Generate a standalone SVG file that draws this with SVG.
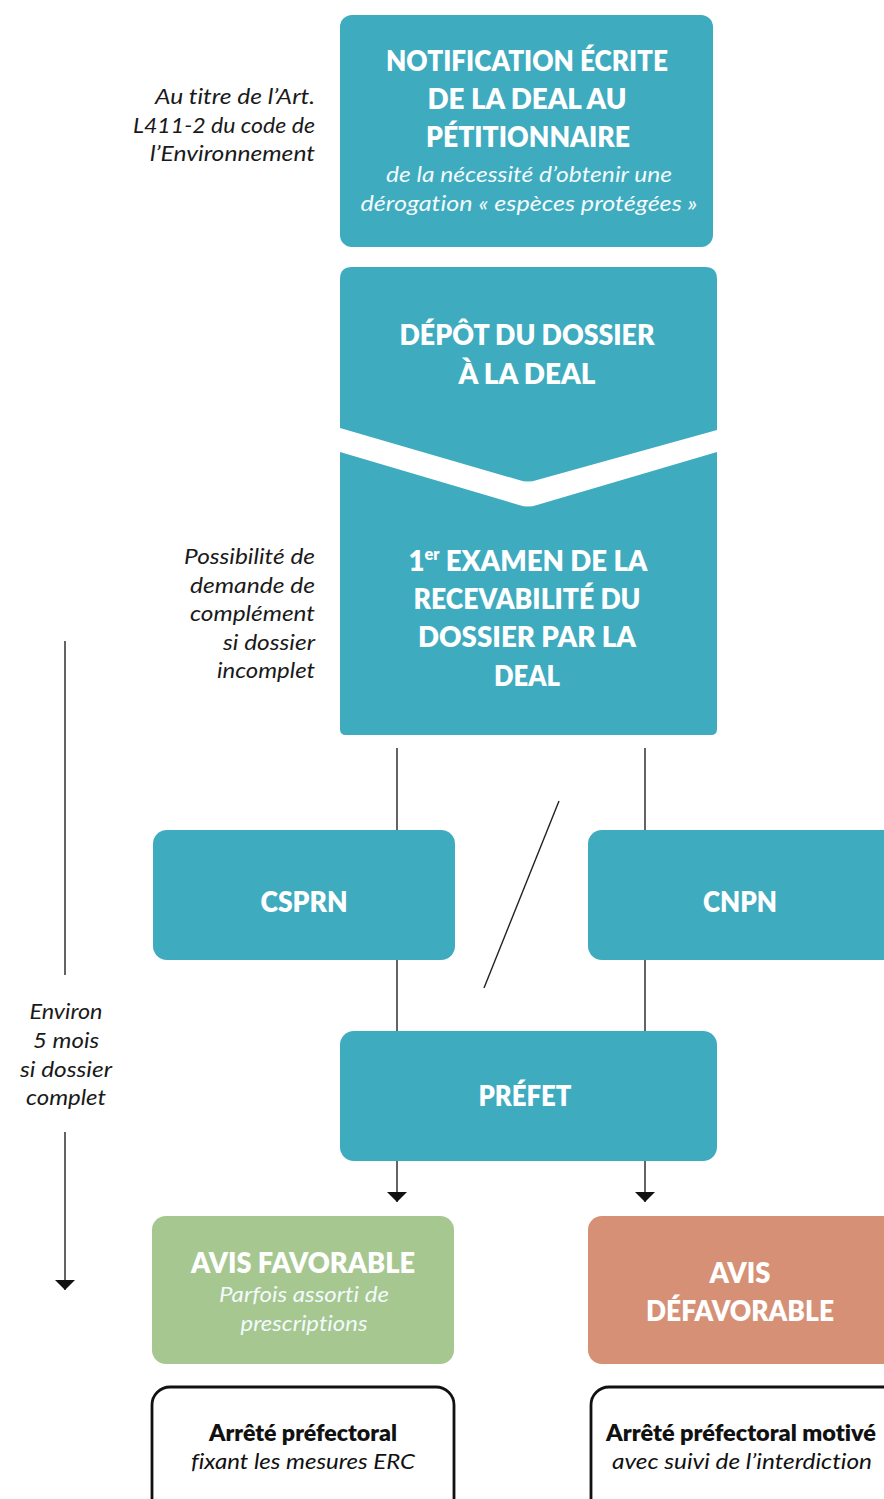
<svg xmlns="http://www.w3.org/2000/svg" width="884" height="1499" viewBox="0 0 884 1499">
  <style>
    text { font-variant-ligatures: none; }
    .teal { fill: #3eabbf; }
    .green { fill: #a6c790; }
    .salmon { fill: #d59076; }
    .card { fill: #ffffff; stroke: #111111; stroke-width: 2.8; }
    .head { font-family: Lato, "Liberation Sans", sans-serif; font-weight: 800; font-size: 29px; fill: #ffffff; text-anchor: middle; }
    .sub { font-family: Lato, "Liberation Sans", sans-serif; font-style: italic; font-size: 22px; fill: #f2fafc; text-anchor: middle; }
    .note { font-family: Lato, "Liberation Sans", sans-serif; font-style: italic; font-size: 21px; fill: #1a1a1a; }
    .right { text-anchor: end; }
    .mid { text-anchor: middle; }
    .cardtitle { font-family: Lato, "Liberation Sans", sans-serif; font-weight: 800; font-size: 23px; fill: #111111; text-anchor: middle; }
    .cardsub { font-family: Lato, "Liberation Sans", sans-serif; font-style: italic; font-size: 22px; fill: #111111; text-anchor: middle; }
    .link { stroke: #222222; stroke-width: 1.4; fill: none; }
  </style>
  <defs>
    <!-- short, wide arrowhead -->
    <marker id="tri" viewBox="0 0 10 20" refX="10" refY="10" markerWidth="10" markerHeight="20" markerUnits="userSpaceOnUse" orient="auto">
      <path d="M0,0 L10,10 L0,20 Z" fill="#111111"/>
    </marker>
  </defs>

  <!-- side annotations -->
  <g id="note-article">
    <text class="note right" x="315" y="104" textLength="160" lengthAdjust="spacingAndGlyphs">Au titre de l’Art.</text>
    <text class="note right" x="315" y="133" textLength="182" lengthAdjust="spacingAndGlyphs">L411-2 du code de</text>
    <text class="note right" x="315" y="161" textLength="165" lengthAdjust="spacingAndGlyphs">l’Environnement</text>
  </g>
  <g id="note-complement">
    <text class="note right" x="315" y="564" textLength="131" lengthAdjust="spacingAndGlyphs">Possibilité de</text>
    <text class="note right" x="315" y="593" textLength="125" lengthAdjust="spacingAndGlyphs">demande de</text>
    <text class="note right" x="315" y="621" textLength="125" lengthAdjust="spacingAndGlyphs">complément</text>
    <text class="note right" x="315" y="650" textLength="92" lengthAdjust="spacingAndGlyphs">si dossier</text>
    <text class="note right" x="315" y="678" textLength="98" lengthAdjust="spacingAndGlyphs">incomplet</text>
  </g>
  <g id="timeline">
    <line class="link" x1="65" y1="641" x2="65" y2="975"/>
    <text class="note mid" x="66" y="1019" textLength="73" lengthAdjust="spacingAndGlyphs">Environ</text>
    <text class="note mid" x="66" y="1048" textLength="66" lengthAdjust="spacingAndGlyphs">5 mois</text>
    <text class="note mid" x="66" y="1077" textLength="92" lengthAdjust="spacingAndGlyphs">si dossier</text>
    <text class="note mid" x="66" y="1105" textLength="80" lengthAdjust="spacingAndGlyphs">complet</text>
    <line class="link" x1="65" y1="1132" x2="65" y2="1290" marker-end="url(#tri)"/>
  </g>

  <!-- connectors -->
  <g id="connectors">
    <line class="link" x1="397" y1="748" x2="397" y2="830"/>
    <line class="link" x1="645" y1="748" x2="645" y2="830"/>
    <line class="link" x1="397" y1="960" x2="397" y2="1031"/>
    <line class="link" x1="645" y1="960" x2="645" y2="1031"/>
    <line class="link" x1="559" y1="801" x2="484" y2="988"/>
    <line class="link" x1="397" y1="1161" x2="397" y2="1202" marker-end="url(#tri)"/>
    <line class="link" x1="645" y1="1161" x2="645" y2="1202" marker-end="url(#tri)"/>
  </g>

  <!-- notification -->
  <g id="notification">
    <rect class="teal" x="340" y="15" width="373" height="232" rx="12"/>
    <text class="head" x="527" y="71" textLength="282" lengthAdjust="spacingAndGlyphs">NOTIFICATION ÉCRITE</text>
    <text class="head" x="527" y="109" textLength="199" lengthAdjust="spacingAndGlyphs">DE LA DEAL AU</text>
    <text class="head" x="528" y="147" textLength="204" lengthAdjust="spacingAndGlyphs">PÉTITIONNAIRE</text>
    <text class="sub" x="529" y="182" textLength="286" lengthAdjust="spacingAndGlyphs">de la nécessité d’obtenir une</text>
    <text class="sub" x="529" y="211" textLength="337" lengthAdjust="spacingAndGlyphs">dérogation « espèces protégées »</text>
  </g>

  <!-- dépôt (chevron) -->
  <g id="depot">
    <path class="teal" d="M340,279 Q340,267 352,267 L705,267 Q717,267 717,279 L717,430 L537,480 Q528,483 519,480 L340,428 Z"/>
    <text class="head" x="527" y="345" textLength="255" lengthAdjust="spacingAndGlyphs">DÉPÔT DU DOSSIER</text>
    <text class="head" x="527" y="384" textLength="137" lengthAdjust="spacingAndGlyphs">À LA DEAL</text>
  </g>

  <!-- examen -->
  <g id="examen">
    <path class="teal" d="M340,452 L519,505 Q528,508 537,505 L717,452 L717,729 Q717,735 711,735 L346,735 Q340,735 340,729 Z"/>
    <text class="head" x="528" y="571" textLength="239" lengthAdjust="spacingAndGlyphs">1<tspan font-size="17" dy="-11">er</tspan><tspan dy="11"> EXAMEN DE LA</tspan></text>
    <text class="head" x="527" y="609" textLength="227" lengthAdjust="spacingAndGlyphs">RECEVABILITÉ DU</text>
    <text class="head" x="527" y="647" textLength="218" lengthAdjust="spacingAndGlyphs">DOSSIER PAR LA</text>
    <text class="head" x="527" y="686" textLength="66" lengthAdjust="spacingAndGlyphs">DEAL</text>
  </g>

  <!-- commissions -->
  <g id="csprn">
    <rect class="teal" x="153" y="830" width="302" height="130" rx="14"/>
    <text class="head" x="304" y="912" textLength="87" lengthAdjust="spacingAndGlyphs">CSPRN</text>
  </g>
  <g id="cnpn">
    <rect class="teal" x="588" y="830" width="310" height="130" rx="14"/>
    <text class="head" x="740" y="912" textLength="74" lengthAdjust="spacingAndGlyphs">CNPN</text>
  </g>

  <!-- préfet -->
  <g id="prefet">
    <rect class="teal" x="340" y="1031" width="377" height="130" rx="14"/>
    <text class="head" x="525" y="1106" textLength="93" lengthAdjust="spacingAndGlyphs">PRÉFET</text>
  </g>

  <!-- outcomes -->
  <g id="favorable">
    <rect class="green" x="152" y="1216" width="302" height="148" rx="14"/>
    <text class="head" x="303" y="1273" textLength="224" lengthAdjust="spacingAndGlyphs">AVIS FAVORABLE</text>
    <text class="sub" x="304" y="1302" textLength="170" lengthAdjust="spacingAndGlyphs" fill="#ffffff">Parfois assorti de</text>
    <text class="sub" x="304" y="1331" textLength="127" lengthAdjust="spacingAndGlyphs">prescriptions</text>
  </g>
  <g id="defavorable">
    <rect class="salmon" x="588" y="1216" width="310" height="148" rx="14"/>
    <text class="head" x="740" y="1283" textLength="61" lengthAdjust="spacingAndGlyphs">AVIS</text>
    <text class="head" x="740" y="1321" textLength="188" lengthAdjust="spacingAndGlyphs">DÉFAVORABLE</text>
  </g>

  <!-- decrees -->
  <g id="arrete-erc">
    <rect class="card" x="152" y="1387" width="302" height="130" rx="18"/>
    <text class="cardtitle" x="303" y="1441" textLength="188" lengthAdjust="spacingAndGlyphs">Arrêté préfectoral</text>
    <text class="cardsub" x="303" y="1469" textLength="224" lengthAdjust="spacingAndGlyphs">fixant les mesures ERC</text>
  </g>
  <g id="arrete-motive">
    <rect class="card" x="591" y="1387" width="310" height="130" rx="18"/>
    <text class="cardtitle" x="741" y="1441" textLength="270" lengthAdjust="spacingAndGlyphs">Arrêté préfectoral motivé</text>
    <text class="cardsub" x="742" y="1469" textLength="260" lengthAdjust="spacingAndGlyphs">avec suivi de l’interdiction</text>
  </g>
</svg>
